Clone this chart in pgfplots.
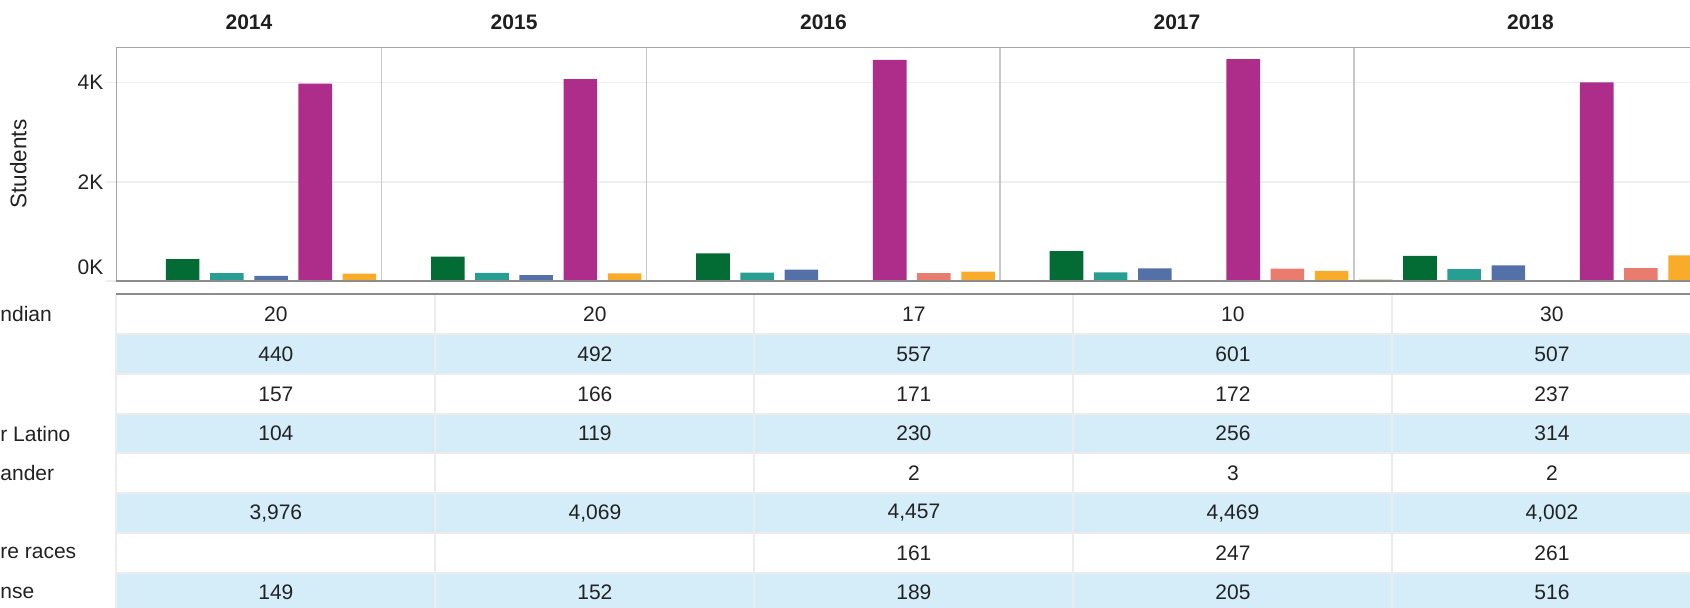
\documentclass[border=0pt]{standalone}
\usepackage{fontspec}
\setmainfont{Liberation Sans}
\usepackage{pgfplots}
\pgfplotsset{compat=1.18}
\definecolor{cAI}{HTML}{62B446}
\definecolor{cBL}{HTML}{036C35}
\definecolor{cAS}{HTML}{269E91}
\definecolor{cHI}{HTML}{5470A8}
\definecolor{cPI}{HTML}{8FCFE0}
\definecolor{cWH}{HTML}{AE2D8A}
\definecolor{cTW}{HTML}{E97B6F}
\definecolor{cNR}{HTML}{F9AC29}
\definecolor{rowblue}{HTML}{D4EDF9}
\definecolor{sepgray}{HTML}{ECECEC}
\definecolor{topgray}{HTML}{8C8C8C}
\definecolor{gridgray}{HTML}{EEEEEE}
\definecolor{divgray}{HTML}{C8C8C8}
\definecolor{txt}{HTML}{222222}
\begin{document}
\begin{tikzpicture}[font=\fontsize{10.5}{12.6}\selectfont]
\useasboundingbox (0,-304pt) rectangle (845pt,0pt);
\clip (0,-304pt) rectangle (845pt,0pt);
% ---- table background ----
\foreach \r in {2,4,6,8} {
  \fill[rowblue] (58.2pt,{-147.3pt-(\r-1)*19.86pt}) rectangle (845pt,{-147.3pt-\r*19.86pt});
}
\foreach \r in {1,...,8} {
  \draw[sepgray, line width=1pt] (58.2pt,{-147.3pt-\r*19.86pt}) -- (845pt,{-147.3pt-\r*19.86pt});
}
\foreach \x in {58.2,217.7,377.2,536.7,696.2} {
  \draw[sepgray, line width=1pt] (\x pt,-147pt) -- (\x pt,-304pt);
}
\draw[topgray, line width=0.7pt] (58.2pt,-147pt) -- (845pt,-147pt);
% ---- table values ----
\foreach \r/\va/\vb/\vc/\vd/\ve in {
  1/20/20/17/10/30,
  2/440/492/557/601/507,
  3/157/166/171/172/237,
  4/104/119/230/256/314,
  5/{}/{}/2/3/2,
  6/{3,976}/{4,069}/{4,457}/{4,469}/{4,002},
  7/{}/{}/161/247/261,
  8/149/152/189/205/516} {
  \pgfmathsetmacro\yy{-147.3-(\r-0.5)*19.86}
  \node[text=txt] at (137.95pt,\yy pt) {\va};
  \node[text=txt] at (297.45pt,\yy pt) {\vb};
  \node[text=txt] at (456.95pt,\yy pt) {\vc};
  \node[text=txt] at (616.45pt,\yy pt) {\vd};
  \node[text=txt] at (775.95pt,\yy pt) {\ve};
}
% ---- row labels (cropped at the left edge) ----
\foreach \r/\lab in {1/ndian, 4/r Latino, 5/ander, 7/re races, 8/nse} {
  \pgfmathsetmacro\yy{-147.3-(\r-0.5)*19.86}
  \node[text=txt, anchor=west, inner sep=0pt] at (0pt,\yy pt) {\lab};
}
% ---- chart ----
\begin{axis}[
  at={(58.2pt,-140.5pt)}, anchor=south west,
  scale only axis, width=795.4pt, height=116.8pt,
  xmin=0, xmax=36, ymin=0, ymax=4708,
  clip=false,
  axis line style={draw=none},
  xtick=\empty,
  ytick={2000,4000}, yticklabels={2K,4K},
  extra y ticks={0}, extra y tick labels={0K},
  extra y tick style={yticklabel style={yshift=7pt}},
  ytick pos=left, tick align=outside, major tick length=5pt,
  tick style={gridgray, line width=0.8pt},
  yticklabel style={text=txt, xshift=2pt},
  ymajorgrids, grid style={gridgray, line width=0.8pt},
  ylabel={Students},
  every axis y label/.style={at={(axis description cs:0,0.5)}, xshift=-49pt, rotate=90, anchor=center, text=txt, font=\fontsize{11.3}{13}\selectfont},
]
% American Indian
\addplot[ybar, bar width=0.76, bar shift=0pt, fill=cAI, draw=none] coordinates {(0.5,20) (6.5,20) (12.5,17) (20.5,10) (28.5,30)};
% second row
\addplot[ybar, bar width=0.76, bar shift=0pt, fill=cBL, draw=none] coordinates {(1.5,440) (7.5,492) (13.5,557) (21.5,601) (29.5,507)};
% third row
\addplot[ybar, bar width=0.76, bar shift=0pt, fill=cAS, draw=none] coordinates {(2.5,157) (8.5,166) (14.5,171) (22.5,172) (30.5,237)};
% Hispanic or Latino
\addplot[ybar, bar width=0.76, bar shift=0pt, fill=cHI, draw=none] coordinates {(3.5,104) (9.5,119) (15.5,230) (23.5,256) (31.5,314)};
% Pacific Islander
\addplot[ybar, bar width=0.76, bar shift=0pt, fill=cPI, draw=none] coordinates {(16.5,2) (24.5,3) (32.5,2)};
% White
\addplot[ybar, bar width=0.76, bar shift=0pt, fill=cWH, draw=none] coordinates {(4.5,3976) (10.5,4069) (17.5,4457) (25.5,4469) (33.5,4002)};
% Two or more races
\addplot[ybar, bar width=0.76, bar shift=0pt, fill=cTW, draw=none] coordinates {(18.5,161) (26.5,247) (34.5,261)};
% No response
\addplot[ybar, bar width=0.76, bar shift=0pt, fill=cNR, draw=none] coordinates {(5.5,149) (11.5,152) (19.5,189) (27.5,205) (35.5,516)};
% frame and panel dividers
\draw[divgray, line width=0.8pt] (axis cs:6,0) -- (axis cs:6,4708);
\draw[divgray, line width=0.8pt] (axis cs:12,0) -- (axis cs:12,4708);
\draw[divgray, line width=0.8pt] (axis cs:20,0) -- (axis cs:20,4708);
\draw[divgray, line width=0.8pt] (axis cs:28,0) -- (axis cs:28,4708);
\draw[topgray!80, line width=0.6pt] (axis cs:0,0) -- (axis cs:0,4708) -- (axis cs:36,4708);
\draw[topgray, line width=1pt] (axis cs:0,0) -- (axis cs:36,0);
% year headers
\node[font=\fontsize{10.5}{12.6}\selectfont\bfseries, text=black!88] at (axis cs:3,4708) [yshift=12.4pt] {2014};
\node[font=\fontsize{10.5}{12.6}\selectfont\bfseries, text=black!88] at (axis cs:9,4708) [yshift=12.4pt] {2015};
\node[font=\fontsize{10.5}{12.6}\selectfont\bfseries, text=black!88] at (axis cs:16,4708) [yshift=12.4pt] {2016};
\node[font=\fontsize{10.5}{12.6}\selectfont\bfseries, text=black!88] at (axis cs:24,4708) [yshift=12.4pt] {2017};
\node[font=\fontsize{10.5}{12.6}\selectfont\bfseries, text=black!88] at (axis cs:32,4708) [yshift=12.4pt] {2018};
\end{axis}
\end{tikzpicture}
\end{document}
